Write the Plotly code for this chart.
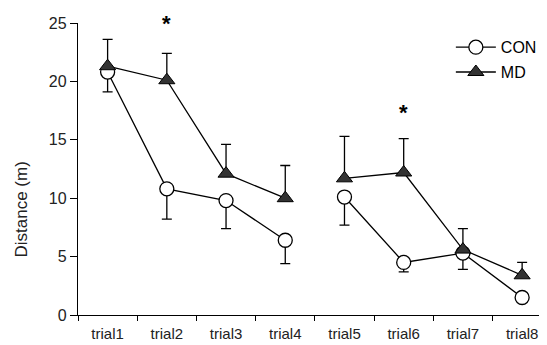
import plotly.graph_objects as go

trials = ["trial1", "trial2", "trial3", "trial4", "trial5", "trial6", "trial7", "trial8"]
con_mean = [20.8, 10.8, 9.8, 6.4, 10.1, 4.5, 5.3, 1.5]
con_lower = [19.1, 8.2, 7.4, 4.4, 7.7, 3.7, 3.9, 1.5]
md_mean = [21.3, 20.1, 12.1, 10.0, 11.7, 12.2, 5.6, 3.4]
md_upper = [23.6, 22.4, 14.6, 12.8, 15.3, 15.1, 7.4, 4.5]
star_trials = ["trial2", "trial6"]
star_y = [25.0, 17.6]
star_shift = [0, -3]
y_title = "Distance (m)"

FONT = "Liberation Sans, Arial, sans-serif"
segments = [(0, 4), (4, 8)]

fig = go.Figure()

for i, (a, b) in enumerate(segments):
    fig.add_trace(go.Scatter(
        x=trials[a:b], y=con_mean[a:b], mode="lines+markers", name="CON",
        legendgroup="CON", showlegend=(i == 0),
        line=dict(color="black", width=1.3),
        marker=dict(symbol="circle", size=14, color="white", line=dict(color="black", width=1.3)),
        error_y=dict(type="data", symmetric=False,
                     array=[0] * (b - a),
                     arrayminus=[m - l for m, l in zip(con_mean[a:b], con_lower[a:b])],
                     color="black", thickness=1.3, width=5),
    ))

for i, (a, b) in enumerate(segments):
    fig.add_trace(go.Scatter(
        x=trials[a:b], y=md_mean[a:b], mode="lines+markers", name="MD",
        legendgroup="MD", showlegend=(i == 0),
        line=dict(color="black", width=1.3),
        marker=dict(symbol="triangle-up", size=14, color="#333333", line=dict(color="black", width=1)),
        error_y=dict(type="data", symmetric=False,
                     array=[u - m for m, u in zip(md_mean[a:b], md_upper[a:b])],
                     arrayminus=[0] * (b - a),
                     color="black", thickness=1.3, width=5),
    ))

for t, yv, sh in zip(star_trials, star_y, star_shift):
    fig.add_annotation(x=t, y=yv, text="<b>*</b>", showarrow=False, yshift=sh,
                       font=dict(family=FONT, size=22, color="black"), yanchor="middle")

fig.add_annotation(xref="paper", yref="paper", x=-0.1205, y=0.363, text=y_title,
                   textangle=-90, showarrow=False, xanchor="center", yanchor="middle",
                   font=dict(family=FONT, size=17, color="#222"))

fig.update_layout(
    width=547, height=345,
    margin=dict(l=70, r=8, t=15, b=38),
    paper_bgcolor="white", plot_bgcolor="white",
    font=dict(family=FONT, size=15, color="#222"),
    legend=dict(x=0.795, y=0.975, xanchor="left", yanchor="top",
                bgcolor="rgba(0,0,0,0)", font=dict(size=16, color="black"),
                tracegroupgap=1, itemwidth=40),
    xaxis=dict(type="category", categoryorder="array", categoryarray=trials,
               range=[-0.5, 7.42], showline=True, linecolor="black", linewidth=1.3,
               ticks="outside", ticklen=5, tickcolor="black", tickson="boundaries",
               ticklabelstandoff=5,
               showgrid=False, zeroline=False, tickfont=dict(size=15)),
    yaxis=dict(range=[0, 25], tickvals=[0, 5, 10, 15, 20, 25],
               showline=True, linecolor="black", linewidth=1.3,
               ticks="outside", ticklen=7, tickcolor="black",
               showgrid=False, zeroline=False, tickfont=dict(size=16)),
)

fig.write_html("out.html")
